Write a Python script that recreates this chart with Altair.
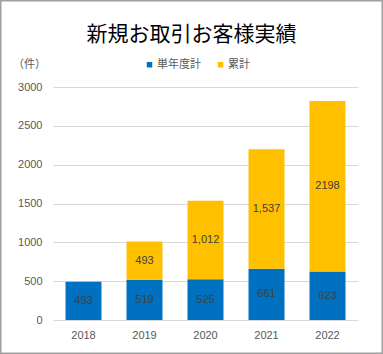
import altair as alt
import pandas as pd

years = ["2018", "2019", "2020", "2021", "2022"]
annual = [493, 519, 525, 661, 623]
cumulative = [0, 493, 1012, 1537, 2198]
annual_labels = ["493", "519", "525", "661", "623"]
cumulative_labels = ["", "493", "1,012", "1,537", "2198"]
series = ["単年度計", "累計"]
colors = ["#0070C0", "#FFC000"]
y_ticks = [0, 500, 1000, 1500, 2000, 2500, 3000]

rows = []
for i, y in enumerate(years):
    rows.append({"year": y, "series": series[0], "value": annual[i], "label": annual_labels[i], "order": 0})
    if cumulative[i] > 0:
        rows.append({"year": y, "series": series[1], "value": cumulative[i], "label": cumulative_labels[i], "order": 1})
df = pd.DataFrame(rows)

JP = "Noto Sans CJK JP"
NUM = "Liberation Sans"

base = alt.Chart(df).transform_stack(
    stack="value", groupby=["year"], as_=["y0", "y1"], sort=[alt.SortField("order", order="ascending")]
).transform_calculate(mid="(datum.y0 + datum.y1) / 2")

x_axis = alt.Axis(title=None, labelAngle=0, domain=False, ticks=False,
                  labelPadding=9, labelFontSize=11, labelColor="#595959", labelFont=NUM)
x_scale = alt.Scale(paddingInner=0.41, paddingOuter=0.205)
y_axis = alt.Axis(values=y_ticks, format="d", labelOverlap=False,
                  title="（件）", titleAngle=0, titleX=-24, titleY=-23,
                  titleAlign="center", titleBaseline="middle",
                  titleFont=JP, titleFontSize=11, titleFontWeight="normal", titleColor="#595959",
                  domain=False, ticks=False, labelPadding=11, labelFontSize=11,
                  labelColor="#595959", labelFont=NUM,
                  grid=True, gridColor="#D9D9D9", gridWidth=1)
y_scale = alt.Scale(domain=[0, 3000])

bars = base.mark_bar().encode(
    x=alt.X("year:N", sort=years, scale=x_scale, axis=x_axis),
    y=alt.Y("y0:Q", scale=y_scale, axis=y_axis),
    y2="y1:Q",
    color=alt.Color("series:N", scale=alt.Scale(domain=series, range=colors),
                    legend=alt.Legend(title=None, orient="none", legendX=91, legendY=-28,
                                      direction="horizontal", symbolType="square", symbolSize=30,
                                      symbolStrokeWidth=0, labelFont=JP, labelFontSize=11,
                                      labelColor="#595959", columnPadding=14, labelOffset=2)),
)

labels = base.mark_text(font=NUM, fontSize=11, color="#404040").encode(
    x=alt.X("year:N", sort=years, scale=x_scale, axis=x_axis),
    y=alt.Y("mid:Q", scale=y_scale, axis=y_axis),
    text="label:N",
)

border = alt.Chart(pd.DataFrame({"d": [0]})).mark_rect(
    fill=None, stroke="#A0A0A0", strokeWidth=1.5
).encode(
    x=alt.value(-52.25), x2=alt.value(383 - 53 - 0.75),
    y=alt.value(-86.25), y2=alt.value(354 - 87 - 0.75),
)

chart = alt.layer(bars, labels, border).properties(
    width=305, height=233,
    title=alt.Title("新規お取引お客様実績", font=JP, fontSize=21, fontWeight="normal",
                    color="#000000", anchor="middle", frame="group", offset=0, dx=-14, dy=45),
    autosize=alt.AutoSizeParams(type="none"),
    padding={"left": 53, "top": 87, "right": 25, "bottom": 34},
).configure(background="white", view=alt.ViewConfig(stroke="transparent"))

chart.save("out.html", embed_options={"renderer": "svg", "actions": False})
